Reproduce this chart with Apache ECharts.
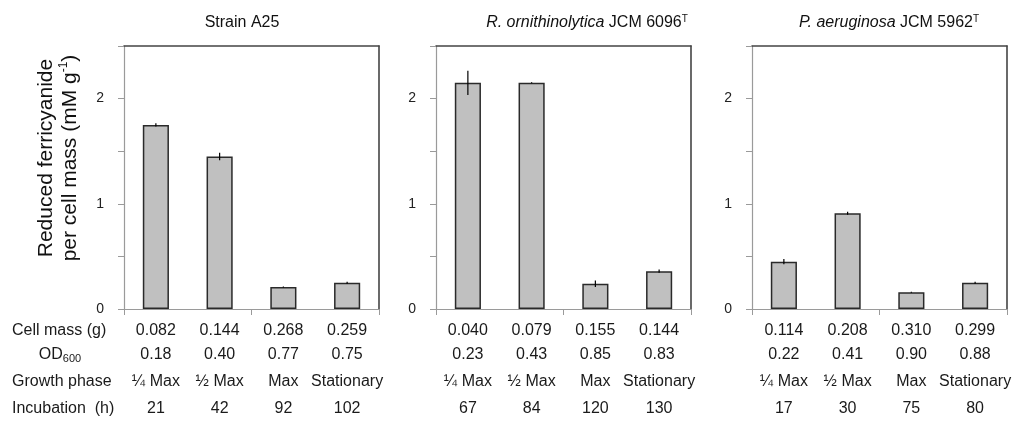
<!DOCTYPE html>
<html>
<head>
<meta charset="utf-8">
<script src="https://cdn.jsdelivr.net/npm/echarts@6/dist/echarts.min.js"></script>
<style>
html,body{margin:0;padding:0;background:#fff;}
#chart{width:1014px;height:441px;}
</style>
</head>
<body>
<div id="chart"></div>
<script>
// ---- data ----
const categories = ['¼ Max', '½ Max', 'Max', 'Stationary'];
const growthPhase = ['¼ Max', '½ Max', 'Max', 'Stationary'];

const a25Values = [1.75, 1.45, 0.21, 0.25];
const a25Errors = [0.015, 0.035, 0.005, 0.01];
const a25CellMass = ['0.082', '0.144', '0.268', '0.259'];
const a25OD = ['0.18', '0.40', '0.77', '0.75'];
const a25Incubation = ['21', '42', '92', '102'];

const rornValues = [2.15, 2.15, 0.24, 0.36];
const rornErrors = [0.115, 0.005, 0.03, 0.015];
const rornCellMass = ['0.040', '0.079', '0.155', '0.144'];
const rornOD = ['0.23', '0.43', '0.85', '0.83'];
const rornIncubation = ['67', '84', '120', '130'];

const paerValues = [0.45, 0.91, 0.16, 0.25];
const paerErrors = [0.025, 0.015, 0.005, 0.01];
const paerCellMass = ['0.114', '0.208', '0.310', '0.299'];
const paerOD = ['0.22', '0.41', '0.90', '0.88'];
const paerIncubation = ['17', '30', '75', '80'];

const yTicks = [0, 1, 2];
const rowLabels = ['Cell mass (g)', 'OD{sub|600}', 'Growth phase', 'Incubation  (h)'];
const panelTitles = [
  'Strain A25',
  '{i|R. ornithinolytica} JCM 6096{sup|T}',
  '{i|P. aeruginosa} JCM 5962{sup|T}'
];
const yTitle = 'Reduced ferricyanide\nper cell mass (mM g{sup|-1})';

// ---- layout ----
const FONT = '"Liberation Sans", Arial, sans-serif';
const panels = [
  {left: 124, width: 255, values: a25Values, errors: a25Errors, rows: [a25CellMass, a25OD, growthPhase, a25Incubation], titleX: 242},
  {left: 436, width: 255, values: rornValues, errors: rornErrors, rows: [rornCellMass, rornOD, growthPhase, rornIncubation], titleX: 587},
  {left: 752, width: 256, values: paerValues, errors: paerErrors, rows: [paerCellMass, paerOD, growthPhase, paerIncubation], titleX: 889}
];
const plotTop = 46, zeroY = 309, H = 441;
const rowY = [331, 355, 382, 409];

const grid = [], xAxis = [], yAxis = [], series = [], graphic = [];
panels.forEach((p, i) => {
  grid.push({left: p.left, width: p.width, top: plotTop, bottom: H - zeroY, containLabel: false});
  const xBase = xAxis.length;
  // main category axis
  xAxis.push({
    type: 'category', gridIndex: i, data: categories, position: 'bottom',
    axisLine: {show: true, lineStyle: {color: '#9a9a9a', width: 1.2}},
    axisTick: {show: true, length: 6, lineStyle: {color: '#9a9a9a'}},
    axisLabel: {show: false}
  });
  // table rows
  p.rows.forEach((row, r) => {
    xAxis.push({
      type: 'category', gridIndex: i, data: row, position: 'bottom',
      offset: rowY[r] - zeroY,
      axisLine: {show: false}, axisTick: {show: false},
      axisLabel: {show: true, interval: 0, margin: 0, verticalAlign: 'middle',
        fontSize: 16, fontFamily: FONT, color: '#1a1a1a', hideOverlap: false}
    });
  });
  // top frame
  xAxis.push({
    type: 'category', gridIndex: i, data: categories, position: 'top',
    axisLine: {show: true, lineStyle: {color: '#444', width: 1.6}},
    axisTick: {show: false}, axisLabel: {show: false}
  });
  const yBase = yAxis.length;
  yAxis.push({
    type: 'value', gridIndex: i, min: 0, max: 2.5, interval: 0.5, position: 'left',
    axisLine: {show: true, lineStyle: {color: '#9a9a9a', width: 1.2}},
    axisTick: {show: true, length: 6, inside: false, lineStyle: {color: '#9a9a9a'}},
    axisLabel: {show: true, margin: 20, fontSize: 14, fontFamily: FONT, color: '#222',
      formatter: v => (yTicks.indexOf(v) >= 0 ? String(v) : '')},
    splitLine: {show: false}
  });
  yAxis.push({
    type: 'value', gridIndex: i, min: 0, max: 2.5, interval: 0.5, position: 'right',
    axisLine: {show: true, lineStyle: {color: '#444', width: 1.6}},
    axisTick: {show: false}, axisLabel: {show: false}, splitLine: {show: false}
  });
  series.push({
    type: 'bar', xAxisIndex: xBase, yAxisIndex: yBase, data: p.values,
    barWidth: '41%',
    itemStyle: {color: '#c0c0c0', borderColor: '#2a2a2a', borderWidth: 1.5},
    z: 2
  });
  series.push({
    type: 'custom', xAxisIndex: xBase, yAxisIndex: yBase, z: 5,
    data: p.values.map((v, j) => [j, v, p.errors[j]]),
    renderItem: (params, api) => {
      const x = api.value(0), v = api.value(1), e = api.value(2);
      const a = api.coord([x, v + e]), b = api.coord([x, v - e]);
      return {type: 'line', shape: {x1: a[0], y1: a[1], x2: b[0], y2: b[1]},
        style: {stroke: '#000', lineWidth: 1.2}};
    }
  });
  graphic.push({
    type: 'text', x: p.titleX, y: 23,
    style: {text: panelTitles[i], font: '16px ' + FONT, fill: '#111',
      textAlign: 'center', textVerticalAlign: 'middle', align: 'center', verticalAlign: 'middle',
      rich: {
        i: {fontStyle: 'italic', fontSize: 16, fontFamily: FONT, fill: '#111', color: '#111'},
        sup: {fontSize: 10, fontFamily: FONT, verticalAlign: 'top', padding: [0, 0, 8, 0], fill: '#111', color: '#111'}
      }}
  });
});

// row labels
const rowLabelX = [12, 60, 12, 12];
const rowAlign = ['left', 'center', 'left', 'left'];
rowLabels.forEach((t, r) => {
  graphic.push({
    type: 'text', x: rowLabelX[r], y: rowY[r],
    style: {text: t, font: '16px ' + FONT, fill: '#1a1a1a',
      textAlign: rowAlign[r], textVerticalAlign: 'middle', align: rowAlign[r], verticalAlign: 'middle',
      rich: {sub: {fontSize: 11, fontFamily: FONT, padding: [8, 0, 0, 0], verticalAlign: 'bottom', fill: '#1a1a1a'}}}
  });
});

// y axis title
graphic.push({
  type: 'text', x: 58, y: 158, rotation: Math.PI / 2,
  style: {text: yTitle, font: '21px ' + FONT, fill: '#111', lineHeight: 24,
    textAlign: 'center', textVerticalAlign: 'middle', align: 'center', verticalAlign: 'middle',
    rich: {sup: {fontSize: 12, fontFamily: FONT, verticalAlign: 'top', padding: [0, 0, 10, 0], fill: '#111'}}}
});

const chart = echarts.init(document.getElementById('chart'), null, {renderer: 'canvas'});
chart.setOption({
  animation: false,
  backgroundColor: '#fff',
  grid, xAxis, yAxis, series, graphic
});
</script>
</body>
</html>
